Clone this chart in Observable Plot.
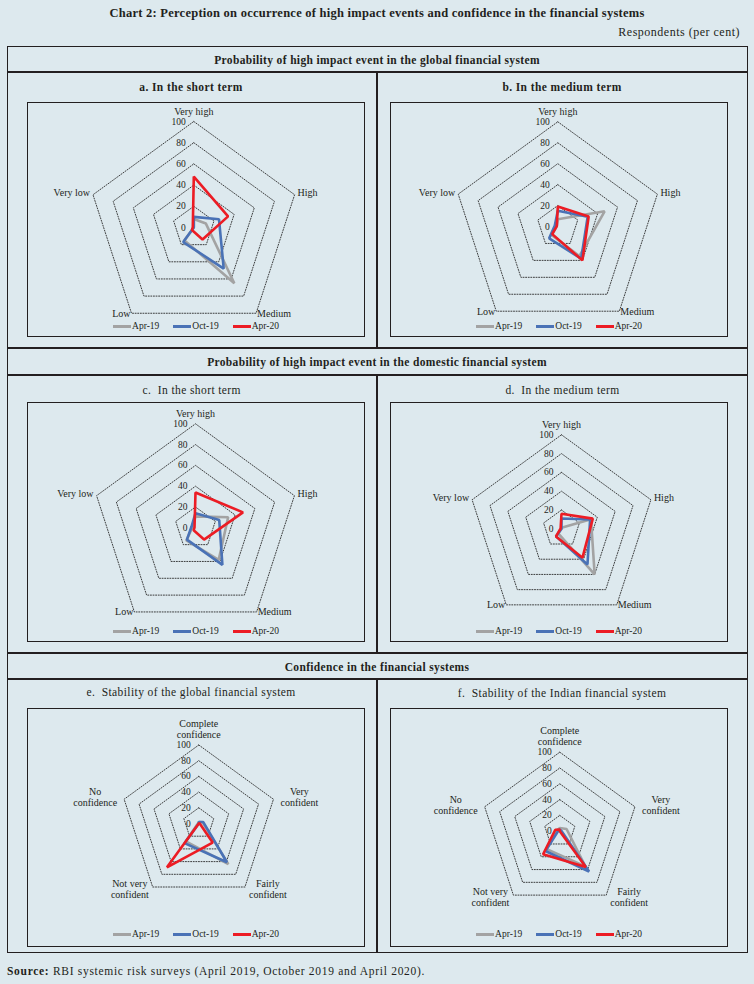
<!DOCTYPE html>
<html>
<head>
<meta charset="utf-8">
<script src="https://cdn.jsdelivr.net/npm/d3@7"></script>
<script src="https://cdn.jsdelivr.net/npm/@observablehq/plot@0.6"></script>
<style>
  html, body { margin: 0; padding: 0; background: #dde9ee; }
  #page { position: relative; width: 754px; height: 984px; overflow: hidden;
          font-family: "Liberation Serif", "Times New Roman", serif; color: #231f20; background: #dde9ee; }
  .abs { position: absolute; }
  .txt { position: absolute; white-space: pre; line-height: 14px; height: 14px; }
  .hline { position: absolute; height: 1.5px; background: #231f20; }
  .vline { position: absolute; width: 1.5px; background: #231f20; }
  .box { position: absolute; box-sizing: border-box; border: 1.4px solid #231f20; }
  .legend { position: absolute; left: 0; right: 0; display: flex; justify-content: center; align-items: center;
            font-size: 9.5px; height: 12px; line-height: 12px; gap: 14px; }
  .legend .item { display: flex; align-items: center; }
  .legend .sw { width: 18px; height: 3px; margin-right: 1px; }
  svg { overflow: visible; }
</style>
</head>
<body>
<div id="page"></div>
<script>
// ---------------- data ----------------
const seriesNames = ["Apr-19", "Oct-19", "Apr-20"];
const seriesColors = ["#a3a3a3", "#4a72b6", "#ec1c24"];

const eventCats = ["Very high", "High", "Medium", "Low", "Very low"];
const confCats = ["Complete\nconfidence", "Very\nconfident", "Fairly\nconfident", "Not very\nconfident", "No\nconfidence"];
const tickValues = [0, 20, 40, 60, 80, 100];
const ringValues = [20, 40, 60, 80, 100];

// a. Global, short term
const aApr19 = [8, 12, 65, 15, 0];
const aOct19 = [10, 25, 48, 17, 0];
const aApr20 = [48, 34, 14, 3, 1];
// b. Global, medium term
const bApr19 = [7, 47, 35, 10, 1];
const bOct19 = [15, 30, 38, 14, 3];
const bApr20 = [19, 31, 40, 9, 1];
// c. Domestic, short term
const cApr19 = [11, 33, 38, 15, 3];
const cOct19 = [14, 24, 44, 14, 4];
const cApr20 = [34, 48, 14, 3, 1];
// d. Domestic, medium term
const dApr19 = [1, 33, 60, 6, 0];
const dOct19 = [11, 32, 47, 10, 0];
const dApr20 = [16, 35, 38, 10, 1];
// e. Stability of global financial system
const eApr19 = [2, 5, 64, 28, 1];
const eOct19 = [2, 6, 61, 31, 0];
const eApr20 = [0, 1, 30, 69, 0];
// f. Stability of Indian financial system
const fApr19 = [4, 9, 55, 28, 4];
const fOct19 = [2, 2, 63, 31, 2];
const fApr20 = [2, 0, 56, 36, 6];

// ---------------- texts ----------------
const chartTitle = "Chart 2: Perception on occurrence of high impact events and confidence in the financial systems";
const unitText = "Respondents (per cent)";
const sectionTitles = [
  "Probability of high impact event in the global financial system",
  "Probability of high impact event in the domestic financial system",
  "Confidence in the financial systems"
];
const sourceBold = "Source:";
const sourceText = " RBI systemic risk surveys (April 2019, October 2019 and April 2020).";

// ---------------- layout ----------------
const FONT = "'Liberation Serif', 'Times New Roman', serif";
const panels = [
  {title: "a. In the short term", bold: true, tx: 191, ty: 87.3, box: [27, 102, 365, 337], cx: 193.3, cy: 227, R: 106, cats: eventCats, data: [aApr19, aOct19, aApr20]},
  {title: "b. In the medium term", bold: true, tx: 562, ty: 87.3, box: [390, 102, 728, 337], cx: 557.3, cy: 226, R: 104.7, cats: eventCats, data: [bApr19, bOct19, bApr20]},
  {title: "c.  In the short term", bold: false, tx: 191.7, ty: 390, box: [27, 402, 365, 642], cx: 195, cy: 527.3, R: 104, cats: eventCats, data: [cApr19, cOct19, cApr20]},
  {title: "d.  In the medium term", bold: false, tx: 562.5, ty: 390, box: [390, 402, 728, 642], cx: 561, cy: 528.3, R: 94, cats: eventCats, data: [dApr19, dOct19, dApr20]},
  {title: "e.  Stability of the global financial system", bold: false, tx: 191, ty: 692.3, box: [27, 708, 365, 947], cx: 198.3, cy: 823, R: 78.5, cats: confCats, data: [eApr19, eOct19, eApr20]},
  {title: "f.  Stability of the Indian financial system", bold: false, tx: 562, ty: 692.5, box: [390, 708, 728, 947], cx: 559.3, cy: 830.7, R: 79, cats: confCats, data: [fApr19, fOct19, fApr20]}
];

const page = document.getElementById("page");
function addText(str, cx, cy, opts = {}) {
  const d = document.createElement("div");
  d.className = "txt";
  d.textContent = str;
  d.style.fontSize = (opts.size || 11) + "px";
  if (opts.ls) d.style.letterSpacing = opts.ls + "px";
  if (opts.bold) d.style.fontWeight = "bold";
  d.style.top = (cy - 7) + "px";
  if (opts.align === "right") { d.style.right = (754 - cx) + "px"; }
  else if (opts.align === "left") { d.style.left = cx + "px"; }
  else { d.style.left = (cx - 300) + "px"; d.style.width = "600px"; d.style.textAlign = "center"; }
  page.appendChild(d);
  return d;
}
function hline(x1, x2, y) { const d = document.createElement("div"); d.className = "hline"; d.style.left = x1 + "px"; d.style.width = (x2 - x1) + "px"; d.style.top = (y - 0.75) + "px"; page.appendChild(d); }
function vline(x, y1, y2) { const d = document.createElement("div"); d.className = "vline"; d.style.left = (x - 0.75) + "px"; d.style.top = y1 + "px"; d.style.height = (y2 - y1) + "px"; page.appendChild(d); }

// title & unit
addText(chartTitle, 377, 13.3, {bold: true, size: 12.5, ls: 0.25});
addText(unitText, 740, 31.5, {align: "right", size: 12, ls: 0.5});

// outer frame
const ob = document.createElement("div");
ob.className = "box"; ob.style.left = "7px"; ob.style.top = "46px"; ob.style.width = "741px"; ob.style.height = "907px";
page.appendChild(ob);
hline(7, 748, 72); hline(7, 748, 348); hline(7, 748, 375); hline(7, 748, 653); hline(7, 748, 679);
vline(377, 72, 348); vline(377, 375, 653); vline(377, 679, 953);

addText(sectionTitles[0], 377, 60, {bold: true, size: 11.5, ls: 0.35});
addText(sectionTitles[1], 377, 362, {bold: true, size: 11.5, ls: 0.35});
addText(sectionTitles[2], 377, 666.5, {bold: true, size: 11.5, ls: 0.35});

// source
const src = document.createElement("div");
src.className = "txt"; src.style.left = "7px"; src.style.top = (971 - 7) + "px"; src.style.fontSize = "11.5px"; src.style.letterSpacing = "0.7px";
const sb = document.createElement("b"); sb.textContent = sourceBold; src.appendChild(sb);
src.appendChild(document.createTextNode(sourceText));
page.appendChild(src);

// text measurement
const mctx = document.createElement("canvas").getContext("2d");
mctx.font = "10px " + FONT;
const measure = s => Math.max(...s.split("\n").map(l => mctx.measureText(l).width));

function radar(p) {
  const [x1, y1, x2, y2] = p.box;
  const w = x2 - x1, h = y2 - y1;
  const cx = p.cx - x1, cy = p.cy - y1;
  const k = p.R / 100;          // px per unit
  const n = p.cats.length;
  const ang = i => i * 2 * Math.PI / n;
  const ux = (i, v) => v * Math.sin(ang(i));
  const uy = (i, v) => v * Math.cos(ang(i));

  const rings = ringValues.flatMap(r => p.cats.map((c, i) => ({r, x: ux(i, r), y: uy(i, r)})));
  const pts = seriesNames.flatMap((s, si) => p.data[si].map((v, i) => ({s, x: ux(i, v), y: uy(i, v)})));

  // category labels, placed outside the vertices (computed in px then converted to data units)
  const labels = p.cats.map((c, i) => {
    const lines = c.split("\n").length;
    const W = measure(c);
    const vx = ux(i, 100) * k, vy = -uy(i, 100) * k; // screen px offset, y down
    let lx = vx, ly = vy;
    if (i === 0) { ly = vy - (5 + lines * 11 / 2); }
    else if (i === 1) { lx = vx + (lines > 1 ? 7 : 3) + W / 2; ly = vy - 2; }
    else if (i === 2) { lx = vx + (lines > 1 ? 4 : 1) + W / 2; ly = vy + (lines > 1 ? 2 : 0); }
    else if (i === 3) { lx = vx - (lines > 1 ? 4 : 1) - W / 2; ly = vy + (lines > 1 ? 2 : 0); }
    else { lx = vx - (lines > 1 ? 7 : 3) - W / 2; ly = vy - 2; }
    return {text: c, x: lx / k, y: -ly / k};
  });

  return Plot.plot({
    width: w, height: h, margin: 0,
    x: {domain: [-cx / k, (w - cx) / k], range: [0, w], axis: null},
    y: {domain: [-(h - cy) / k, cy / k], range: [h, 0], axis: null},
    color: {domain: seriesNames, range: seriesColors},
    style: {background: "transparent", fontFamily: FONT, color: "#231f20", overflow: "visible"},
    marks: [
      Plot.line(rings, {x: "x", y: "y", z: "r", curve: "linear-closed", stroke: "#2a2a2a", strokeWidth: 0.9, strokeDasharray: "1,1.6"}),
      Plot.line(pts, {x: "x", y: "y", z: "s", stroke: "s", curve: "linear-closed", strokeWidth: 2.6, strokeLinejoin: "miter"}),
      Plot.text(tickValues, {x: 0, y: d => d, text: d => String(d), textAnchor: "end", dx: -8, fontSize: 9.5, fill: "#231f20"}),
      Plot.text(labels, {x: "x", y: "y", text: "text", textAnchor: "middle", lineAnchor: "middle", lineHeight: 1.1, fontSize: 10, fill: "#231f20"})
    ]
  });
}

for (const p of panels) {
  addText(p.title, p.tx, p.ty, {bold: p.bold, size: 11.5, ls: 0.4});
  const [x1, y1, x2, y2] = p.box;
  const b = document.createElement("div");
  b.className = "box";
  b.style.left = x1 + "px"; b.style.top = y1 + "px";
  b.style.width = (x2 - x1) + "px"; b.style.height = (y2 - y1) + "px";
  page.appendChild(b);
  const holder = document.createElement("div");
  holder.className = "abs";
  holder.style.left = x1 + "px"; holder.style.top = y1 + "px";
  page.appendChild(holder);
  holder.appendChild(radar(p));
  // legend
  const lg = document.createElement("div");
  lg.className = "legend";
  lg.style.left = x1 + "px"; lg.style.width = (x2 - x1) + "px"; lg.style.right = "auto";
  lg.style.top = (y2 - (p.cats === confCats ? 19 : 17)) + "px";
  seriesNames.forEach((s, i) => {
    const it = document.createElement("div"); it.className = "item";
    const sw = document.createElement("div"); sw.className = "sw"; sw.style.background = seriesColors[i];
    const t = document.createElement("span"); t.textContent = s;
    it.appendChild(sw); it.appendChild(t); lg.appendChild(it);
  });
  page.appendChild(lg);
}
</script>
</body>
</html>
